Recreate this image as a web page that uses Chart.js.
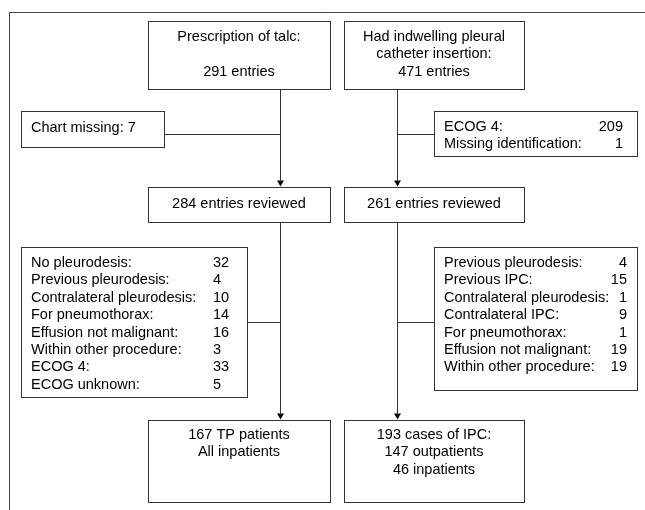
<!DOCTYPE html>
<html>
<head>
<meta charset="utf-8">
<script src="https://cdn.jsdelivr.net/npm/chart.js@4"></script>
<style>
  html, body { margin: 0; padding: 0; background: #fff; }
  #flow { display: block; }
</style>
</head>
<body>
<canvas id="flow" width="645" height="510"></canvas>
<script>
// ---- flowchart content ----
var talcHeader = ['Prescription of talc:', '', '291 entries'];
var ipcHeader = ['Had indwelling pleural', 'catheter insertion:', '471 entries'];

var talcMissingLabels = ['Chart missing: 7'];
var ipcMissingLabels = ['ECOG 4:', 'Missing identification:'];
var ipcMissingCounts = [209, 1];

var talcReviewed = ['284 entries reviewed'];
var ipcReviewed = ['261 entries reviewed'];

var talcExclLabels = ['No pleurodesis:', 'Previous pleurodesis:', 'Contralateral pleurodesis:',
    'For pneumothorax:', 'Effusion not malignant:', 'Within other procedure:', 'ECOG 4:', 'ECOG unknown:'];
var talcExclCounts = [32, 4, 10, 14, 16, 3, 33, 5];

var ipcExclLabels = ['Previous pleurodesis:', 'Previous IPC:', 'Contralateral pleurodesis:',
    'Contralateral IPC:', 'For pneumothorax:', 'Effusion not malignant:', 'Within other procedure:'];
var ipcExclCounts = [4, 15, 1, 9, 1, 19, 19];

var talcFinal = ['167 TP patients', 'All inpatients'];
var ipcFinal = ['193 cases of IPC:', '147 outpatients', '46 inpatients'];

// ---- layout (in chart units, x 0..645, y 0..510 top-down) ----
var boxes = [
    {x0: 148, y0: 21, x1: 330, y1: 89, lines: talcHeader, y: 37, align: 'center'},
    {x0: 344, y0: 21, x1: 524, y1: 89, lines: ipcHeader, y: 37, align: 'center'},
    {x0: 21, y0: 111, x1: 164, y1: 147, lines: talcMissingLabels, y: 128, align: 'left', tx: 31},
    {x0: 434, y0: 111, x1: 637, y1: 156, lines: ipcMissingLabels, counts: ipcMissingCounts,
        y: 127, align: 'left', tx: 444, cx: 623, cAlign: 'right'},
    {x0: 148, y0: 187, x1: 330, y1: 222, lines: talcReviewed, y: 203.5, align: 'center'},
    {x0: 344, y0: 187, x1: 524, y1: 222, lines: ipcReviewed, y: 203.5, align: 'center'},
    {x0: 21, y0: 247, x1: 247, y1: 397, lines: talcExclLabels, counts: talcExclCounts,
        y: 263, align: 'left', tx: 31, cx: 213, cAlign: 'left'},
    {x0: 434, y0: 247, x1: 637, y1: 390, lines: ipcExclLabels, counts: ipcExclCounts,
        y: 263, align: 'left', tx: 444, cx: 627, cAlign: 'right'},
    {x0: 148, y0: 420, x1: 330, y1: 502, lines: talcFinal, y: 435, align: 'center'},
    {x0: 344, y0: 420, x1: 524, y1: 502, lines: ipcFinal, y: 435, align: 'center'}
];
var lineStep = 17.4;

var connectors = [
    [{x: 9.5, y: 510}, {x: 9.5, y: 12.5}, {x: 645, y: 12.5}],
    [{x: 280.5, y: 89}, {x: 280.5, y: 182}],
    [{x: 164, y: 134.5}, {x: 280.5, y: 134.5}],
    [{x: 397.5, y: 89}, {x: 397.5, y: 182}],
    [{x: 397.5, y: 134.5}, {x: 434, y: 134.5}],
    [{x: 280.5, y: 222}, {x: 280.5, y: 415}],
    [{x: 247, y: 322.5}, {x: 280.5, y: 322.5}],
    [{x: 397.5, y: 222}, {x: 397.5, y: 415}],
    [{x: 397.5, y: 322.5}, {x: 434, y: 322.5}]
];
var arrowTips = [
    {x: 280.5, y: 182.5}, {x: 397.5, y: 182.5}, {x: 280.5, y: 415.5}, {x: 397.5, y: 415.5}
];

var datasets = [];
for (var i = 0; i < connectors.length; i++) {
    datasets.push({
        data: connectors[i],
        showLine: true,
        borderColor: i == 0 ? '#444' : '#333',
        borderWidth: 1,
        pointRadius: 0,
        fill: false
    });
}
datasets.push({
    data: arrowTips,
    showLine: false,
    pointStyle: 'triangle',
    rotation: 180,
    pointRadius: 4,
    backgroundColor: '#000',
    borderColor: '#000',
    borderWidth: 0
});

var boxPlugin = {
    id: 'boxes',
    afterDatasetsDraw: function(chart) {
        var ctx = chart.ctx;
        var xs = chart.scales.x, ys = chart.scales.y;
        ctx.save();
        ctx.strokeStyle = '#333';
        ctx.lineWidth = 1;
        ctx.fillStyle = '#000';
        ctx.font = '14.5px "Liberation Sans", Arial, sans-serif';
        ctx.textBaseline = 'middle';
        boxes.forEach(function(b) {
            var px0 = Math.round(xs.getPixelForValue(b.x0)) + 0.5;
            var py0 = Math.round(ys.getPixelForValue(b.y0)) + 0.5;
            var px1 = Math.round(xs.getPixelForValue(b.x1)) + 0.5;
            var py1 = Math.round(ys.getPixelForValue(b.y1)) + 0.5;
            ctx.fillStyle = '#fff';
            ctx.fillRect(px0, py0, px1 - px0, py1 - py0);
            ctx.strokeRect(px0, py0, px1 - px0, py1 - py0);
            ctx.fillStyle = '#000';
            for (var k = 0; k < b.lines.length; k++) {
                var ty = ys.getPixelForValue(b.y + k * lineStep);
                if (b.align == 'center') {
                    ctx.textAlign = 'center';
                    ctx.fillText(b.lines[k], xs.getPixelForValue((b.x0 + b.x1) / 2), ty);
                } else {
                    ctx.textAlign = 'left';
                    ctx.fillText(b.lines[k], xs.getPixelForValue(b.tx), ty);
                }
                if (b.counts) {
                    ctx.textAlign = b.cAlign;
                    ctx.fillText(String(b.counts[k]), xs.getPixelForValue(b.cx), ty);
                }
            }
        });
        ctx.restore();
    }
};

const flowChart = new Chart(document.getElementById('flow').getContext('2d'), {
    type: 'scatter',
    data: { datasets: datasets },
    options: {
        responsive: false,
        animation: false,
        layout: { padding: 0, autoPadding: false },
        plugins: {
            legend: { display: false },
            tooltip: { enabled: false }
        },
        scales: {
            x: { type: 'linear', min: 0, max: 645, display: false },
            y: { type: 'linear', min: 0, max: 510, reverse: true, display: false }
        }
    },
    plugins: [boxPlugin]
});
</script>
</body>
</html>
